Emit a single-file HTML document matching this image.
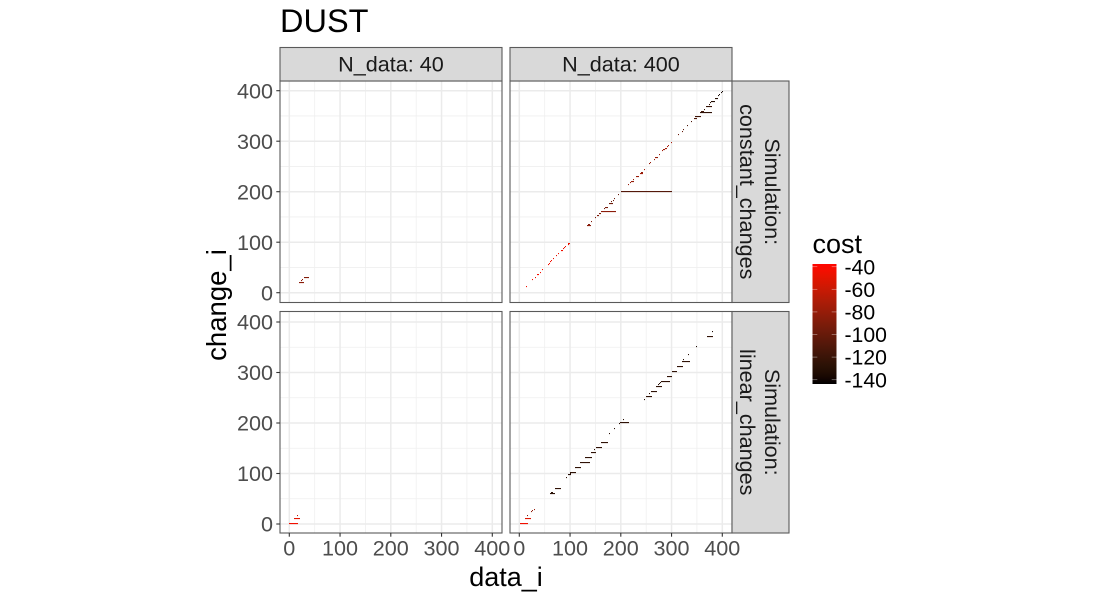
<!DOCTYPE html>
<html>
<head>
<meta charset="utf-8">
<title>DUST</title>
<style>
html,body{margin:0;padding:0;background:#fff;}
svg{display:block;font-family:"Liberation Sans",sans-serif;}
</style>
</head>
<body>
<svg id="chart" width="1100" height="600" viewBox="0 0 1100 600" xmlns="http://www.w3.org/2000/svg"></svg>
<script>
// Axis values
const xMajorTicks = [0, 100, 200, 300, 400];
const xMinorTicks = [50, 150, 250, 350];
const yMajorTicks = [0, 100, 200, 300, 400];
const yMinorTicks = [50, 150, 250, 350];
const legendTicks = [-40, -60, -80, -100, -120, -140];
const columnLabels = ["N_data: 40", "N_data: 400"];
const rowLabelsTop = ["Simulation:", "Simulation:"];
const rowLabelsBottom = ["constant_changes", "linear_changes"];

// N_data 40, constant changes
const topLeftStart = [19, 23, 25, 29];
const topLeftEnd = [29, 24, 26, 39];
const topLeftChange = [21, 24, 26, 30];
const topLeftCost = [-85, -85, -85, -88];

// N_data 400, constant changes
const topRightStart = [14,26,30,35,40,45,56,58,60,62,66,73,77,83,86,88,90,95,96,
  133,136,142,150,154,158,160,166,168,177,181,184,187,195,200,
  215,218,221,225,230,238,240,245,
  256,258,265,268,275,281,284,287,291,293,298,
  313,320,323,331,339,345,347,357,358,363,368,373,376,378,385,391,394,397,399];
const topRightEnd = [15,27,31,38,41,46,58,60,63,65,68,75,78,86,88,90,92,96,100,
  141,139,143,151,158,160,190,168,175,184,182,185,188,196,300,
  216,219,226,226,236,243,244,246,
  257,259,268,274,278,282,287,291,293,294,300,
  314,321,324,332,340,350,358,380,364,364,380,374,377,386,392,392,395,398,400];
const topRightChange = [13,26,31,36,40,45,56,58,61,64,67,74,77,84,87,90,92,95,97,
  134,136,141,149,153,157,160,167,169,176,180,183,186,195,200,
  214,218,221,225,230,236,239,244,
  256,258,264,268,274,281,284,286,289,292,298,
  313,320,323,331,339,345,348,357,358,363,369,373,376,379,385,391,393,396,399];
const topRightCost = [-44,-44,-43,-43,-44,-45,-45,-46,-44,-44,-46,-47,-48,-46,-47,-47,-48,-48,-47,
  -84,-88,-88,-90,-90,-92,-84,-96,-92,-98,-100,-100,-100,-102,-108,
  -80,-78,-80,-80,-78,-76,-82,-76,
  -82,-80,-78,-80,-78,-76,-76,-74,-72,-72,-72,
  -100,-100,-105,-112,-112,-112,-118,-125,-118,-125,-122,-128,-128,-132,-130,-135,-138,-138,-140];

// N_data 40, linear changes
const bottomLeftStart = [0, 10, 15];
const bottomLeftEnd = [17, 22, 16];
const bottomLeftChange = [1, 11, 16];
const bottomLeftCost = [-44, -50, -62];

// N_data 400, linear changes
const bottomRightStart = [1,11,16,24,26,28,61,63,70,93,96,100,100,110,120,130,141,148,151,161,177,187,197,199,205,
  246,250,256,260,270,274,276,278,279,291,301,311,321,323,333,349,370,380];
const bottomRightEnd = [17,23,17,25,27,29,70,67,82,94,101,101,112,122,139,143,151,149,163,175,178,188,198,216,206,
  247,261,257,271,281,275,277,279,297,301,311,323,336,324,334,350,382,381];
const bottomRightChange = [1,11,17,25,26,28,61,63,71,92,98,100,102,112,122,132,142,148,152,162,180,189,199,201,207,
  247,253,259,263,273,277,279,281,282,292,302,312,322,326,336,352,372,382];
const bottomRightCost = [-44,-52,-88,-80,-84,-78,-128,-128,-125,-125,-130,-128,-125,-125,-125,-125,-125,-128,-125,-125,-130,-130,-130,-125,-130,
  -130,-125,-130,-125,-125,-130,-130,-130,-125,-125,-125,-125,-125,-130,-130,-135,-125,-135];

const NS = "http://www.w3.org/2000/svg";
const root = document.getElementById("chart");

function make(tag, attrs, parent) {
  const el = document.createElementNS(NS, tag);
  for (const k in attrs) el.setAttribute(k, attrs[k]);
  (parent || root).appendChild(el);
  return el;
}

// Panel layout
const columnLeft = [280, 510];
const columnWidth = 222;
const rowTop = [81, 311.5];
const rowHeight = 221.5;
const columnZero = [289.3, 519.3];
const rowZero = [292.7, 524];
const xPerUnit = 0.5075;
const yPerUnit = 0.505;

function xScale(col, v) { return columnZero[col] + v * xPerUnit; }
function yScale(row, v) { return rowZero[row] - v * yPerUnit; }

// Black to red, interpolated in Lab as the colour scale does
const costHigh = -37.6;
const costLow = -143.8;
function costColor(c) {
  const t = Math.max(0, Math.min(1, (c - costLow) / (costHigh - costLow)));
  const L = 54.29 * t, a = 80.81 * t, b = 69.89 * t;
  const fy = (L + 16) / 116, fx = fy + a / 500, fz = fy - b / 200;
  const inv = f => f > 6 / 29 ? f * f * f : (f - 16 / 116) * 3 * (6 / 29) * (6 / 29);
  const X = 0.95047 * inv(fx), Y = inv(fy), Z = 1.08883 * inv(fz);
  const lin = [3.2406 * X - 1.5372 * Y - 0.4986 * Z,
               -0.9689 * X + 1.8758 * Y + 0.0415 * Z,
               0.0557 * X - 0.204 * Y + 1.057 * Z];
  const ch = lin.map(v => {
    v = Math.max(0, Math.min(1, v));
    v = v <= 0.0031308 ? 12.92 * v : 1.055 * Math.pow(v, 1 / 2.4) - 0.055;
    return Math.round(v * 255);
  });
  return "rgb(" + ch.join(",") + ")";
}

// Title
const title = make("text", {x: 280, y: 32, "font-size": 32.5, fill: "#000"});


title.textContent = "DUST";

function drawPanel(col, row, starts, ends, changes, costs) {
  const left = columnLeft[col], top = rowTop[row];
  const bg = make("rect", {x: left, y: top, width: columnWidth, height: rowHeight, fill: "#fff"});
  
  

  xMinorTicks.forEach(v => {
    const g = make("line", {x1: xScale(col, v), x2: xScale(col, v), y1: top, y2: top + rowHeight, stroke: "#EFEFEF", "stroke-width": 0.8});
    
    
  });
  yMinorTicks.forEach(v => {
    const g = make("line", {x1: left, x2: left + columnWidth, y1: yScale(row, v), y2: yScale(row, v), stroke: "#EFEFEF", "stroke-width": 0.8});
    
    
  });
  xMajorTicks.forEach(v => {
    const g = make("line", {x1: xScale(col, v), x2: xScale(col, v), y1: top, y2: top + rowHeight, stroke: "#EBEBEB", "stroke-width": 1.5});
    
    
  });
  yMajorTicks.forEach(v => {
    const g = make("line", {x1: left, x2: left + columnWidth, y1: yScale(row, v), y2: yScale(row, v), stroke: "#EBEBEB", "stroke-width": 1.5});
    
    
  });

  starts.forEach((s, i) => {
    const x0 = Math.round(xScale(col, s));
    const x1 = Math.max(x0 + 1, Math.round(xScale(col, ends[i])));
    const y = Math.round(yScale(row, changes[i]) - 0.5);
    const seg = make("rect", {x: x0, y: y, width: x1 - x0, height: 1.1, fill: costColor(costs[i])});
    
    
  });

  const border = make("rect", {x: left, y: top, width: columnWidth, height: rowHeight, fill: "none", stroke: "#5a5a5a", "stroke-width": 1.1});
  
  

  if (col === 0) {
    yMajorTicks.forEach(v => {
      const t = make("line", {x1: left - 3.7, x2: left, y1: yScale(row, v), y2: yScale(row, v), stroke: "#333", "stroke-width": 1.1});
      
      
      const l = make("text", {x: left - 7, y: yScale(row, v) + 7.6, "text-anchor": "end", "font-size": 21.6, fill: "#4D4D4D"});
      
      
      l.textContent = String(v);
    });
  }
  if (row === 1) {
    xMajorTicks.forEach(v => {
      const t = make("line", {x1: xScale(col, v), x2: xScale(col, v), y1: top + rowHeight, y2: top + rowHeight + 3.7, stroke: "#333", "stroke-width": 1.1});
      
      
      const l = make("text", {x: xScale(col, v), y: top + rowHeight + 22.5, "text-anchor": "middle", "font-size": 21.6, fill: "#4D4D4D"});
      
      
      l.textContent = String(v);
    });
  }
}

drawPanel(0, 0, topLeftStart, topLeftEnd, topLeftChange, topLeftCost);
drawPanel(1, 0, topRightStart, topRightEnd, topRightChange, topRightCost);
drawPanel(0, 1, bottomLeftStart, bottomLeftEnd, bottomLeftChange, bottomLeftCost);
drawPanel(1, 1, bottomRightStart, bottomRightEnd, bottomRightChange, bottomRightCost);

// Column strips
columnLabels.forEach((label, c) => {
  const s = make("rect", {x: columnLeft[c], y: 47.5, width: columnWidth, height: 33.5, fill: "#D9D9D9", stroke: "#5a5a5a", "stroke-width": 1.1});
  
  
  const t = make("text", {x: columnLeft[c] + columnWidth / 2, y: 71.5, "text-anchor": "middle", "font-size": 21.6, fill: "#1A1A1A"});
  
  
  t.textContent = label;
});

// Row strips
rowLabelsTop.forEach((label, r) => {
  const s = make("rect", {x: 732, y: rowTop[r], width: 57, height: rowHeight, fill: "#D9D9D9", stroke: "#5a5a5a", "stroke-width": 1.1});
  
  
  const cy = rowTop[r] + rowHeight / 2;
  const t1 = make("text", {transform: "translate(765,"+cy+") rotate(90)", "text-anchor": "middle", "font-size": 21.6, fill: "#1A1A1A"});
  
  
  t1.textContent = label;
  const t2 = make("text", {transform: "translate(740,"+cy+") rotate(90)", "text-anchor": "middle", "font-size": 21.6, fill: "#1A1A1A"});
  
  
  t2.textContent = rowLabelsBottom[r];
});

// Axis titles
const xTitle = make("text", {x: 506, y: 586, "text-anchor": "middle", "font-size": 27, fill: "#000"});


xTitle.textContent = "data_i";
const yTitle = make("text", {transform: "translate(226,305) rotate(-90)", "text-anchor": "middle", "font-size": 27.5, fill: "#000"});


yTitle.textContent = "change_i";

// Legend
const legendTitle = make("text", {x: 812.5, y: 253, "font-size": 27, fill: "#000"});


legendTitle.textContent = "cost";

const barLeft = 812.5, barWidth = 24, barTop = 264, barBottom = 384;
function legendY(c) { return barTop + (costHigh - c) / (costHigh - costLow) * (barBottom - barTop); }

const defs = make("defs", {});
const grad = make("linearGradient", {id: "costGradient", x1: 0, y1: 0, x2: 0, y2: 1}, defs);
for (let i = 0; i <= 20; i++) {
  make("stop", {offset: (i / 20), "stop-color": costColor(costHigh + (costLow - costHigh) * i / 20)}, grad);
}
const bar = make("rect", {x: barLeft, y: barTop, width: barWidth, height: barBottom - barTop, fill: "url(#costGradient)"});



legendTicks.forEach(c => {
  const y = legendY(c);
  const t1 = make("line", {x1: barLeft, x2: barLeft + 4.8, y1: y, y2: y, stroke: "#fff", "stroke-width": 0.7, "stroke-opacity": 0.5});
  
  
  const t2 = make("line", {x1: barLeft + barWidth - 4.8, x2: barLeft + barWidth, y1: y, y2: y, stroke: "#fff", "stroke-width": 0.7, "stroke-opacity": 0.5});
  
  
  const l = make("text", {x: 844.5, y: y + 7.6, "font-size": 21.2, fill: "#000"});
  
  
  l.textContent = String(c);
});
</script>
</body>
</html>
